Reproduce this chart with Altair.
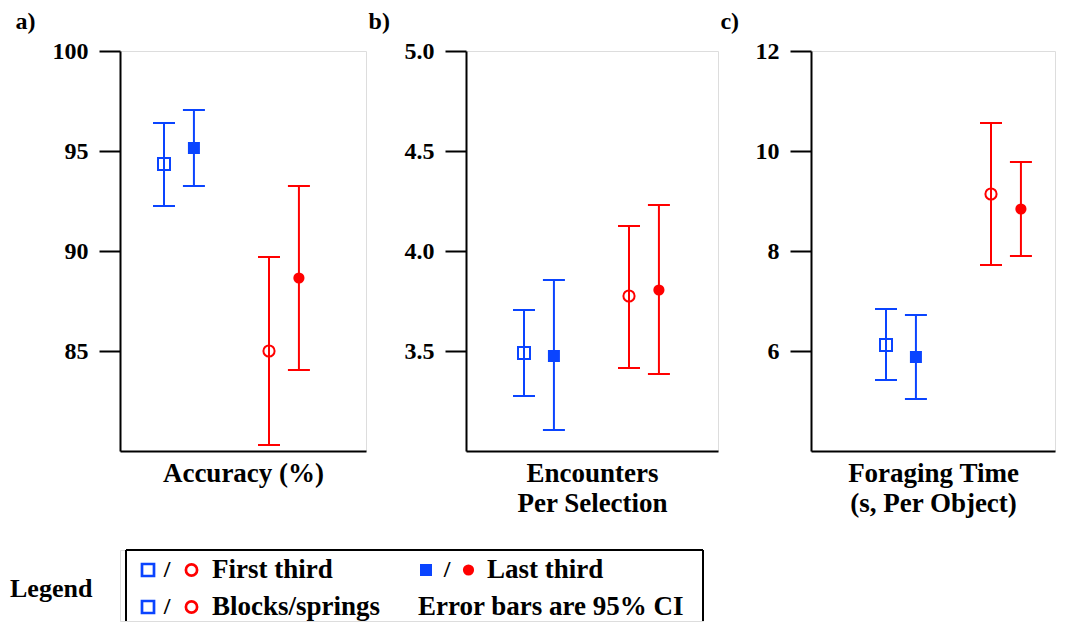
import altair as alt
import pandas as pd

# ---------------- data ----------------
materials = ["Blocks", "Blocks", "Springs", "Springs"]
thirds = ["First third", "Last third", "First third", "Last third"]

accuracy_mean = [94.35, 95.15, 85.0, 88.65]
accuracy_lo = [92.25, 93.25, 80.3, 84.05]
accuracy_hi = [96.4, 97.05, 89.7, 93.25]

encounters_mean = [3.49, 3.475, 3.775, 3.805]
encounters_lo = [3.275, 3.105, 3.415, 3.385]
encounters_hi = [3.705, 3.855, 4.125, 4.23]

time_mean = [6.12, 5.88, 9.14, 8.84]
time_lo = [5.42, 5.04, 7.72, 7.9]
time_hi = [6.84, 6.72, 10.56, 9.78]

panel_tags = ["a)", "b)", "c)"]
panel_titles = [["Accuracy (%)"], ["Encounters", "Per Selection"], ["Foraging Time", "(s, Per Object)"]]
y_domains = [[80, 100], [3.0, 5.0], [4, 12]]
y_ticks = [[85, 90, 95, 100], [3.5, 4.0, 4.5, 5.0], [6, 8, 10, 12]]
y_formats = ["d", ".1f", "d"]

legend_sym_material = ["Blocks", "Springs", "Blocks", "Springs", "Blocks", "Springs"]
legend_sym_filled = [False, False, True, True, False, False]
legend_texts = ["First third", "Last third", "Blocks/springs", "Error bars are 95% CI"]

# ---------------- layout / style ----------------
FONT = "Liberation Serif, Times New Roman, serif"
BLUE = "#0a44ff"
RED = "#ff0000"
panel_widths = [246, 252, 244]
first_offsets = [44, 58, 75]   # px from y axis to the first marker
unit_px = 105                  # px between Blocks and Springs groups
tag_x = [-95, -87.3, -81.7]    # centre of the panel tag, from the y axis
PLOT_H = 400

LEG_X0 = -6                    # legend box starts 6px right of the panel origin
legend_sym_x = [22, 65.5, 300, 342.5, 22, 65.5]
legend_sym_row = [0, 0, 0, 0, 1, 1]
legend_slash_x = [41, 321, 41]
legend_slash_row = [0, 0, 1]
legend_text_x = [86, 361, 86, 292]
legend_text_row = [0, 0, 1, 1]
row_y = [20, 57]
LEG_W, LEG_H = 577, 71

color_scale = alt.Scale(domain=["Blocks", "Springs"], range=[BLUE, RED])
shape_scale = alt.Scale(domain=["Blocks", "Springs"], range=["square", "circle"])


def panel(i, mean, lo, hi):
    df = pd.DataFrame({"material": materials, "third": thirds,
                       "mean": mean, "lo": lo, "hi": hi})
    w = panel_widths[i]
    xdom = [-first_offsets[i] / unit_px, (w - first_offsets[i]) / unit_px]
    base = alt.Chart(df).transform_calculate(
        pos="(datum.material == 'Springs' ? 1 : 0) + (datum.third == 'Last third' ? 0.285 : 0)"
    )
    xaxis = alt.Axis(title=panel_titles[i], ticks=False, labels=False, grid=False,
                     domainColor="black", domainWidth=2,
                     titleFont=FONT, titleFontSize=27, titleFontWeight="bold",
                     titleColor="black", titlePadding=9, titleLineHeight=30)
    yaxis = alt.Axis(values=y_ticks[i], format=y_formats[i], grid=False,
                     title=panel_tags[i], titleAngle=0, titleX=tag_x[i], titleY=-18,
                     titleAlign="center", titleBaseline="bottom",
                     titleFont=FONT, titleFontSize=24, titleFontWeight="bold", titleColor="black",
                     tickSize=21, tickWidth=2, tickColor="black",
                     domainColor="black", domainWidth=2,
                     labelFont=FONT, labelFontSize=24, labelFontWeight="bold",
                     labelColor="black", labelPadding=11)
    xs = alt.Scale(domain=xdom, nice=False, zero=False)
    ys = alt.Scale(domain=y_domains[i], nice=False, zero=False)
    X = alt.X("pos:Q", scale=xs, axis=xaxis)
    col = alt.Color("material:N", scale=color_scale, legend=None)
    shp = alt.Shape("material:N", scale=shape_scale, legend=None)

    bars = base.mark_rule(strokeWidth=2).encode(
        x=X, y=alt.Y("lo:Q", scale=ys, axis=yaxis), y2="hi:Q", color=col)
    cap_lo = base.mark_tick(orient="horizontal", size=22, thickness=2, opacity=1).encode(
        x=X, y=alt.Y("lo:Q", scale=ys, axis=yaxis), color=col)
    cap_hi = base.mark_tick(orient="horizontal", size=22, thickness=2, opacity=1).encode(
        x=X, y=alt.Y("hi:Q", scale=ys, axis=yaxis), color=col)
    open_pts = base.transform_filter(alt.datum.third == "First third").mark_point(
        filled=False, strokeWidth=2, opacity=1).encode(
        x=X, y=alt.Y("mean:Q", scale=ys, axis=yaxis), color=col, shape=shp,
        size=alt.Size("material:N", scale=alt.Scale(domain=["Blocks", "Springs"], range=[144, 125]), legend=None))
    filled_pts = base.transform_filter(alt.datum.third == "Last third").mark_point(
        filled=True, opacity=1).encode(
        x=X, y=alt.Y("mean:Q", scale=ys, axis=yaxis), color=col, shape=shp,
        size=alt.Size("material:N", scale=alt.Scale(domain=["Blocks", "Springs"], range=[196, 196]), legend=None))
    return alt.layer(bars, cap_lo, cap_hi, open_pts, filled_pts).properties(width=w, height=PLOT_H)


pa = panel(0, accuracy_mean, accuracy_lo, accuracy_hi)
pb = panel(1, encounters_mean, encounters_lo, encounters_hi)
pc = panel(2, time_mean, time_lo, time_hi)
row = alt.hconcat(pa, pb, pc, spacing=0)

# ---------------- legend box ----------------
lx = alt.Scale(domain=[LEG_X0, LEG_W], nice=False, zero=False)
ly = alt.Scale(domain=[0, LEG_H], nice=False, zero=False, reverse=True)

sym_df = pd.DataFrame({"x": legend_sym_x, "y": [row_y[r] for r in legend_sym_row],
                       "material": legend_sym_material, "filled": legend_sym_filled})
slash_df = pd.DataFrame({"x": legend_slash_x, "y": [row_y[r] for r in legend_slash_row], "t": ["/"] * 3})
text_df = pd.DataFrame({"x": legend_text_x, "y": [row_y[r] for r in legend_text_row], "t": legend_texts})
title_df = pd.DataFrame({"x": [-116], "y": [39], "t": ["Legend"]})
# frame of the legend box (top, left and right edges; the bottom runs off the page)
frame_df = pd.DataFrame({"x": [0, 0, LEG_W], "x2": [LEG_W, 0, LEG_W],
                         "y": [0, 0, 0], "y2": [0, LEG_H, LEG_H]})

LX = alt.X("x:Q", scale=lx, axis=None)
LY = alt.Y("y:Q", scale=ly, axis=None)
lcol = alt.Color("material:N", scale=color_scale, legend=None)
lshp = alt.Shape("material:N", scale=shape_scale, legend=None)

leg_frame = alt.Chart(frame_df).mark_rule(color="black", strokeWidth=2).encode(
    x=LX, x2="x2:Q", y=LY, y2="y2:Q")
leg_open = alt.Chart(sym_df).transform_filter("!datum.filled").mark_point(
    filled=False, strokeWidth=2.7, opacity=1).encode(
    x=LX, y=LY, color=lcol, shape=lshp,
    size=alt.Size("material:N", scale=alt.Scale(domain=["Blocks", "Springs"], range=[235, 205]), legend=None))
leg_filled = alt.Chart(sym_df).transform_filter("datum.filled").mark_point(
    filled=True, opacity=1).encode(
    x=LX, y=LY, color=lcol, shape=lshp,
    size=alt.Size("material:N", scale=alt.Scale(domain=["Blocks", "Springs"], range=[324, 289]), legend=None))
txt_kw = dict(font=FONT, fontWeight="bold", color="black", baseline="middle")
leg_slash = alt.Chart(slash_df).mark_text(fontSize=24, align="center", **txt_kw).encode(x=LX, y=LY, text="t:N")
leg_text = alt.Chart(text_df).mark_text(fontSize=27, align="left", **txt_kw).encode(x=LX, y=LY, text="t:N")
leg_title = alt.Chart(title_df).mark_text(fontSize=26, align="left", **txt_kw).encode(x=LX, y=LY, text="t:N")

legend = alt.layer(leg_frame, leg_open, leg_filled, leg_slash, leg_text, leg_title).properties(
    width=LEG_W - LEG_X0, height=LEG_H)

chart = alt.vconcat(row, legend, spacing=31).properties(
    padding={"left": 1, "top": 0, "right": 0, "bottom": 0}
).configure_view(strokeOpacity=0).configure(background="white")

chart.save("out.html", embed_options={"renderer": "svg", "actions": False})
